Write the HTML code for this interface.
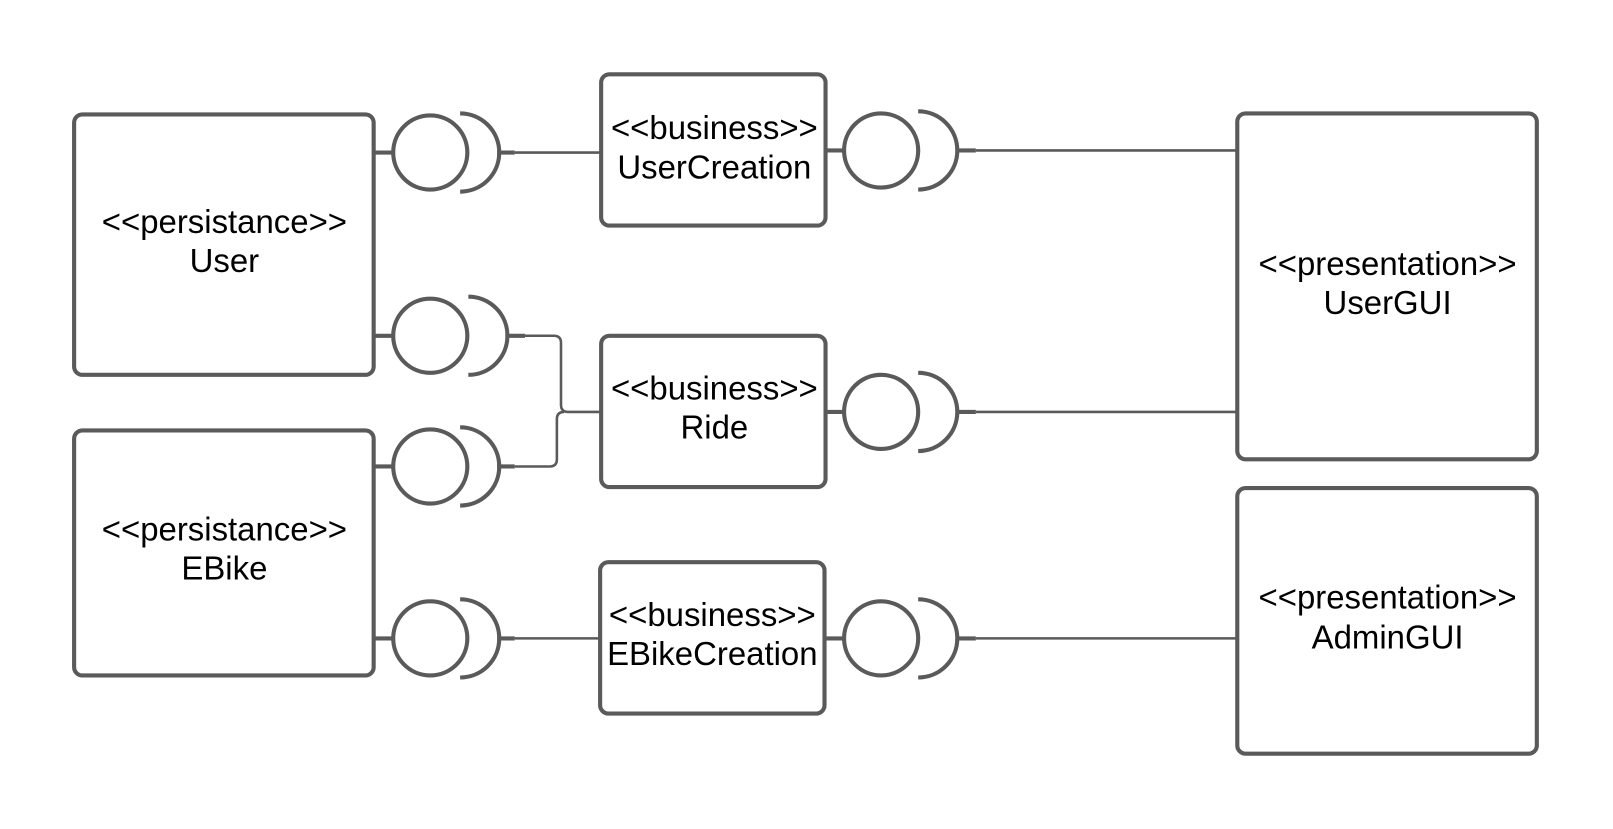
<!DOCTYPE html>
<html><head><meta charset="utf-8"><style>
html,body{margin:0;padding:0;background:#fff;}
svg{display:block;}
text{font-family:"Liberation Sans",sans-serif;font-size:32px;fill:#000;text-anchor:middle;}
</style></head><body>
<svg width="1613" height="829" viewBox="0 0 1567 805" xmlns="http://www.w3.org/2000/svg">
<g fill="none" stroke="#5a5a5a" stroke-width="4">
<rect x="72" y="111" width="291" height="253" rx="8"/>
<rect x="72" y="418" width="291" height="238" rx="8"/>
<rect x="584" y="72" width="218" height="147" rx="8"/>
<rect x="584" y="326" width="218" height="147" rx="8"/>
<rect x="583" y="546" width="218" height="147" rx="8"/>
<rect x="1202" y="110" width="291" height="336" rx="8"/>
<rect x="1202" y="474" width="291" height="258" rx="8"/>

<line x1="363" y1="148" x2="382" y2="148"/>
<circle cx="418" cy="148" r="36"/>
<path d="M447 110 A38 38 0 0 1 447 186"/>
<line x1="483" y1="148" x2="500" y2="148"/>

<line x1="363" y1="326" x2="382" y2="326"/>
<circle cx="418" cy="326" r="36"/>
<path d="M455 288 A38 38 0 0 1 455 364"/>
<line x1="491" y1="326" x2="510" y2="326"/>

<line x1="363" y1="453" x2="382" y2="453"/>
<circle cx="418" cy="453" r="36"/>
<path d="M447 415 A38 38 0 0 1 447 491"/>
<line x1="483" y1="453" x2="500" y2="453"/>

<line x1="363" y1="620" x2="382" y2="620"/>
<circle cx="418" cy="620" r="36"/>
<path d="M447 582 A38 38 0 0 1 447 658"/>
<line x1="483" y1="620" x2="500" y2="620"/>

<line x1="802" y1="146" x2="820" y2="146"/>
<circle cx="856" cy="146" r="36"/>
<path d="M892 108 A38 38 0 0 1 892 184"/>
<line x1="930" y1="146" x2="948" y2="146"/>

<line x1="802" y1="400" x2="820" y2="400"/>
<circle cx="856" cy="400" r="36"/>
<path d="M892 362 A38 38 0 0 1 892 438"/>
<line x1="930" y1="400" x2="948" y2="400"/>

<line x1="801" y1="620" x2="820" y2="620"/>
<circle cx="856" cy="620" r="36"/>
<path d="M892 582 A38 38 0 0 1 892 658"/>
<line x1="930" y1="620" x2="948" y2="620"/>
</g>
<g fill="none" stroke="#5a5a5a" stroke-width="2.5">
<line x1="500" y1="148" x2="584" y2="148"/>
<path d="M510 326 H538 Q545 326 545 333 V393 Q545 400 552 400 H584"/>
<path d="M500 453 H534 Q541 453 541 446 V407 Q541 400 548 400"/>
<line x1="500" y1="620" x2="583" y2="620"/>
<line x1="948" y1="146" x2="1202" y2="146"/>
<line x1="948" y1="400" x2="1202" y2="400"/>
<line x1="948" y1="620" x2="1202" y2="620"/>
</g>
<text x="218" y="226">&lt;&lt;persistance&gt;&gt;</text>
<text x="218" y="264">User</text>
<text x="218" y="525">&lt;&lt;persistance&gt;&gt;</text>
<text x="218" y="563">EBike</text>
<text x="694" y="135">&lt;&lt;business&gt;&gt;</text>
<text x="694" y="173">UserCreation</text>
<text x="694" y="388">&lt;&lt;business&gt;&gt;</text>
<text x="694" y="426">Ride</text>
<text x="692" y="608">&lt;&lt;business&gt;&gt;</text>
<text x="692" y="646">EBikeCreation</text>
<text x="1348" y="267">&lt;&lt;presentation&gt;&gt;</text>
<text x="1348" y="305">UserGUI</text>
<text x="1348" y="591">&lt;&lt;presentation&gt;&gt;</text>
<text x="1348" y="630">AdminGUI</text>
</svg>
</body></html>
